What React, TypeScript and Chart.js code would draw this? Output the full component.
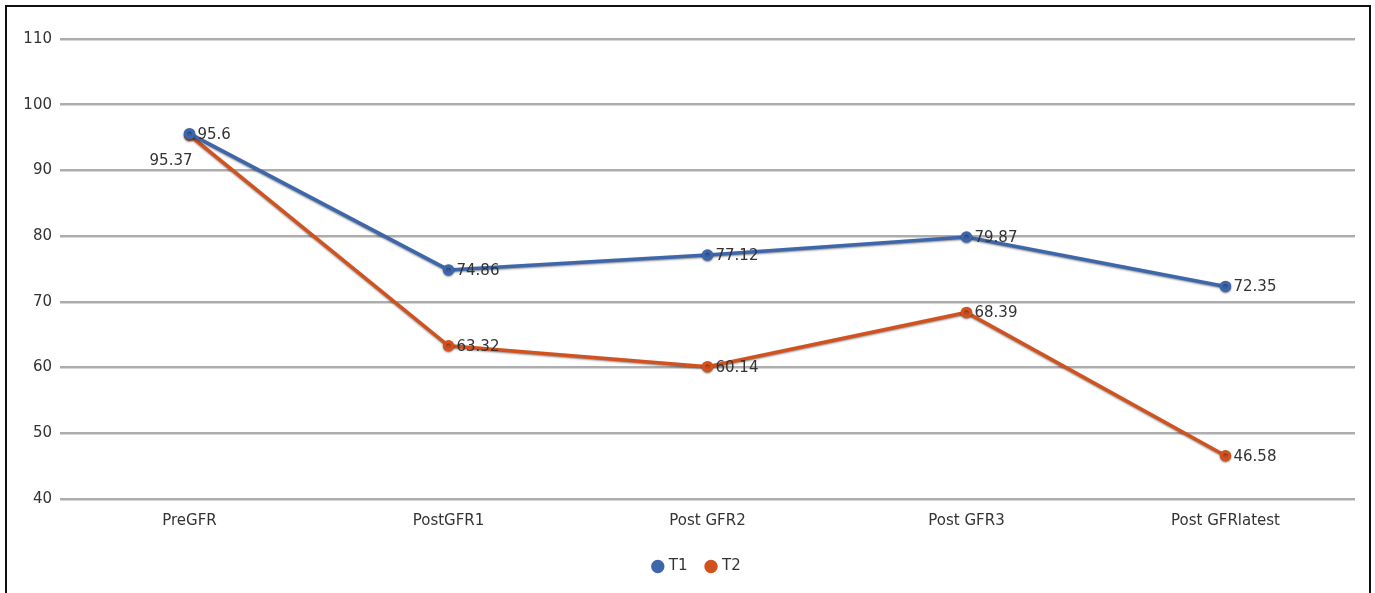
import React, { useEffect, useRef } from "react";
import { Chart, registerables } from "chart.js";

Chart.register(...registerables);

const categories = ["PreGFR", "PostGFR1", "Post GFR2", "Post GFR3", "Post GFRlatest"];
const t1Values = [95.6, 74.86, 77.12, 79.87, 72.35];
const t2Values = [95.37, 63.32, 60.14, 68.39, 46.58];
const yMin = 40;
const yMax = 110;
const yStep = 10;

const FONT = "'DejaVu Sans', sans-serif";
const BLUE = "#3D66AB";
const ORANGE = "#D2521F";
const TEXT = "#333333";

const lineShadow = {
  id: "lineShadow",
  beforeDatasetDraw(chart: any) {
    const ctx = chart.ctx;
    ctx.save();
    ctx.shadowColor = "rgba(0,0,0,0.45)";
    ctx.shadowBlur = 2;
    ctx.shadowOffsetX = 0;
    ctx.shadowOffsetY = 1;
  },
  afterDatasetDraw(chart: any) {
    chart.ctx.restore();
  },
};

const legendShift = {
  id: "legendShift",
  afterLayout(chart: any) {
    const lg = chart.legend;
    if (lg) {
      lg.left += 20;
      lg.right += 20;
    }
  },
};

const dataLabels = {
  id: "dataLabels",
  afterDatasetsDraw(chart: any) {
    const ctx = chart.ctx;
    ctx.save();
    ctx.font = `15px ${FONT}`;
    ctx.fillStyle = TEXT;
    ctx.textBaseline = "middle";
    chart.data.datasets.forEach((ds: any, di: number) => {
      const meta = chart.getDatasetMeta(di);
      meta.data.forEach((pt: any, i: number) => {
        const txt = String(ds.data[i]);
        const place = ds.labelPlace ? ds.labelPlace[i] : "right";
        if (place === "leftBelow") {
          ctx.textAlign = "right";
          ctx.fillText(txt, pt.x + 3, pt.y + 26);
        } else {
          ctx.textAlign = "left";
          ctx.fillText(txt, pt.x + 8, pt.y + 1);
        }
      });
    });
    ctx.restore();
  },
};

export default function App() {
  const ref = useRef<HTMLCanvasElement | null>(null);

  useEffect(() => {
    document.body.style.margin = "0";
    const canvas = ref.current;
    if (!canvas) return;
    const chart = new Chart(canvas, {
      type: "line",
      data: {
        labels: categories,
        datasets: [
          {
            label: "T1",
            data: t1Values,
            borderColor: BLUE,
            backgroundColor: BLUE,
            pointBackgroundColor: BLUE,
            pointBorderColor: BLUE,
            borderWidth: 3.5,
            pointRadius: 4,
            pointStyle: "circle",
            tension: 0,
          } as any,
          {
            label: "T2",
            data: t2Values,
            borderColor: ORANGE,
            backgroundColor: ORANGE,
            pointBackgroundColor: ORANGE,
            pointBorderColor: ORANGE,
            borderWidth: 3.5,
            pointRadius: 4,
            pointStyle: "circle",
            tension: 0,
            labelPlace: ["leftBelow", "right", "right", "right", "right"],
          } as any,
        ],
      },
      options: {
        animation: false,
        responsive: false,
        layout: { padding: { left: 0, right: 20, top: 39, bottom: 9 } },
        plugins: {
          legend: {
            position: "bottom",
            labels: {
              usePointStyle: true,
              pointStyle: "circle",
              boxWidth: 7,
              boxHeight: 7,
              padding: 20,
              color: TEXT,
              font: { family: FONT, size: 15 },
            },
          },
          tooltip: { enabled: false },
        },
        scales: {
          x: {
            offset: true,
            grid: { display: false, drawTicks: false },
            border: { display: false },
            ticks: { color: TEXT, font: { family: FONT, size: 15 }, padding: 13, maxRotation: 0 },
            afterFit: (s: any) => {
              s.height = 40;
            },
          },
          y: {
            min: yMin,
            max: yMax,
            ticks: { stepSize: yStep, color: TEXT, font: { family: FONT, size: 15 }, padding: 8 },
            grid: { color: "#ADADAD", lineWidth: 2.5, drawTicks: false },
            border: { display: false },
            afterFit: (s: any) => {
              s.width = 60;
            },
          },
        },
      },
      plugins: [lineShadow, dataLabels, legendShift],
    });
    return () => chart.destroy();
  }, []);

  return (
    <div style={{ position: "fixed", left: 0, top: 0, width: 1375, height: 593, overflow: "hidden", background: "#fff" }}>
      <canvas ref={ref} width={1375} height={593} style={{ position: "absolute", left: 0, top: 0 }} />
      <div
        style={{
          position: "absolute",
          left: 5,
          top: 5,
          width: 1366,
          height: 620,
          border: "2px solid #111",
          boxSizing: "border-box",
          pointerEvents: "none",
        }}
      />
    </div>
  );
}
